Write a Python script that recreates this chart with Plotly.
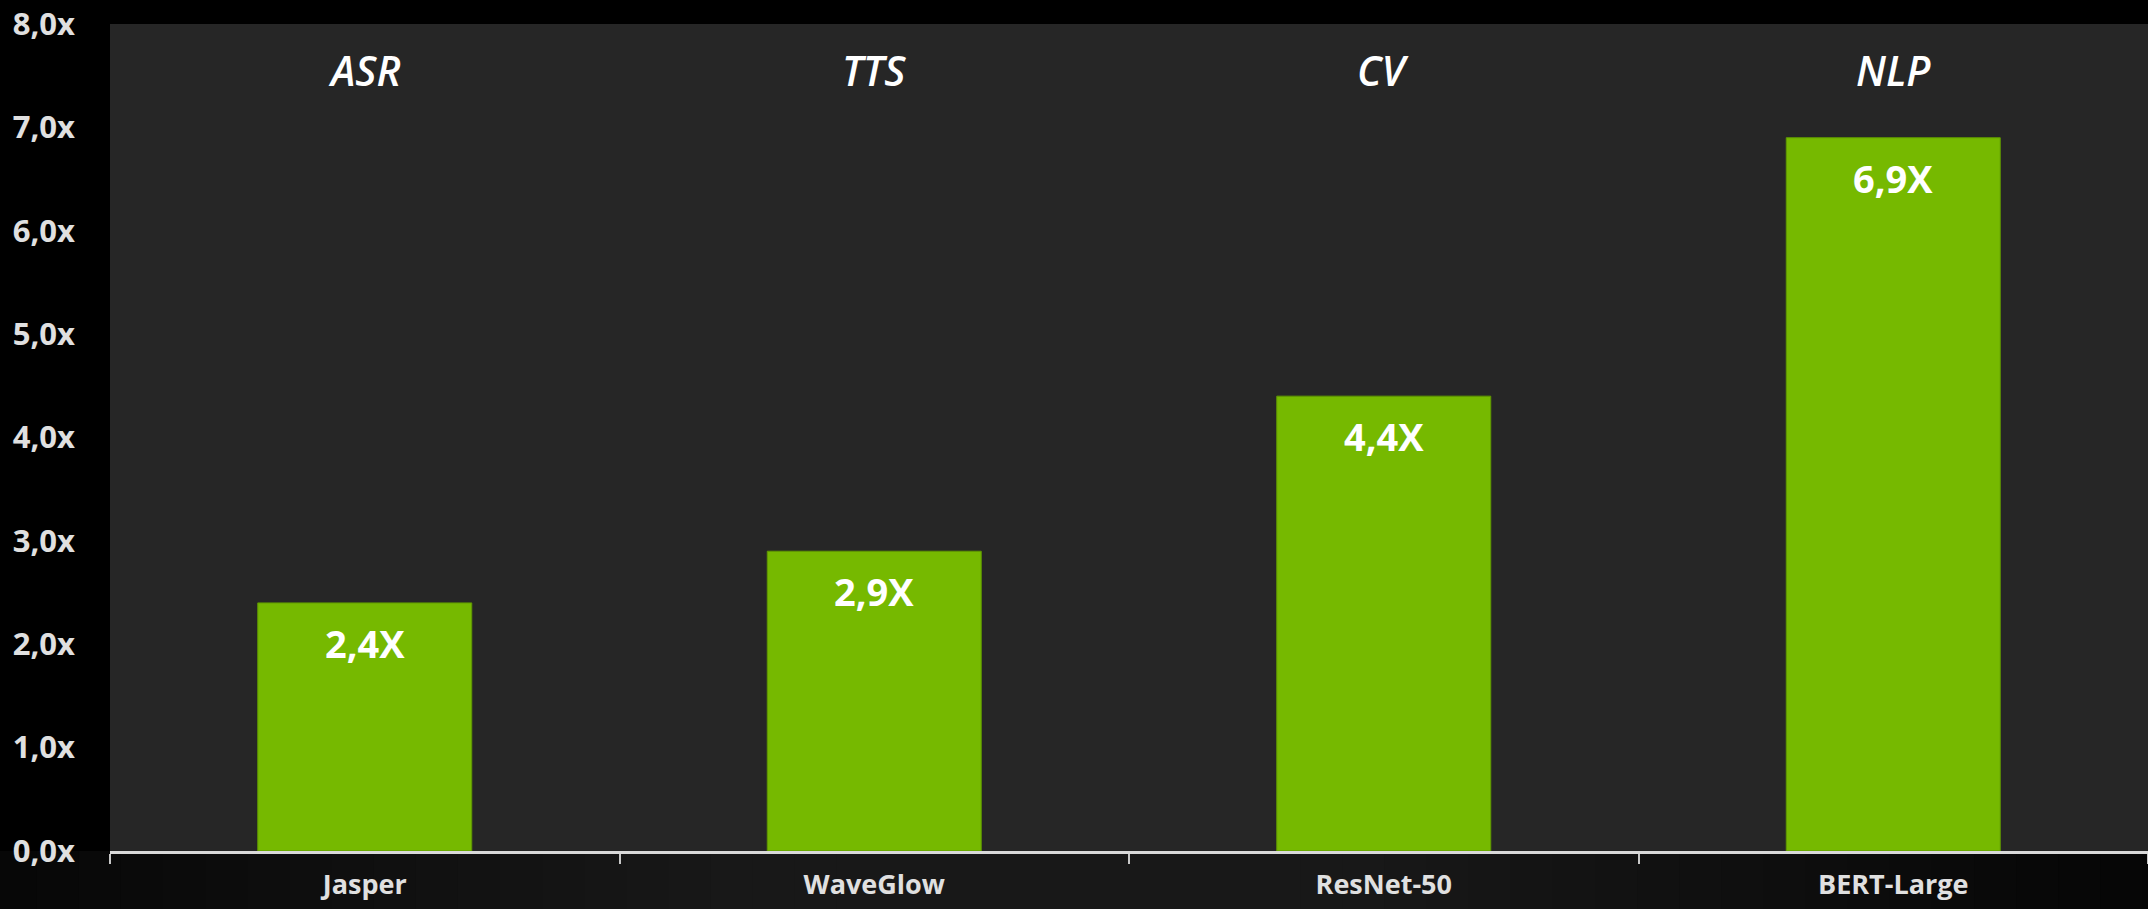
import plotly.graph_objects as go

# Data
models = ["Jasper", "WaveGlow", "ResNet-50", "BERT-Large"]
domains = ["ASR", "TTS", "CV", "NLP"]
speedup = [2.4, 2.9, 4.4, 6.9]
bar_labels = ["2,4X", "2,9X", "4,4X", "6,9X"]
y_tickvals = [0, 1, 2, 3, 4, 5, 6, 7, 8]
y_ticktext = ["0,0x", "1,0x", "2,0x", "3,0x", "4,0x", "5,0x", "6,0x", "7,0x", "8,0x"]

FONT = "Open Sans"
GREEN = "#76b900"

fig = go.Figure()

fig.add_trace(go.Bar(
    x=models,
    y=speedup,
    marker=dict(color=GREEN, line=dict(color="#5f9800", width=1)),
    hoverinfo="skip",
))

# value labels inside the top of each bar
for m, v, lbl in zip(models, speedup, bar_labels):
    fig.add_annotation(
        x=m, y=v, xref="x", yref="y", text=f"<b>{lbl}</b>",
        showarrow=False, yanchor="middle", yshift=-40,
        font=dict(family=FONT, size=38, color="white"),
    )

# workload titles along the top
for m, d in zip(models, domains):
    fig.add_annotation(
        x=m, y=7.555, xref="x", yref="y", text=d,
        showarrow=False, yanchor="middle",
        font=dict(family=FONT, size=41, color="white",
                  style="italic", weight=600),
    )

# soft glow behind the category labels
n_layers = 30
cx = 0.46
for i in range(n_layers):
    half = 0.62 * (1 - i / n_layers)
    fig.add_shape(
        type="rect", xref="paper", yref="paper",
        x0=cx - half, x1=cx + half, y0=-0.09, y1=0,
        fillcolor="rgba(52,52,52,0.045)", line=dict(width=0), layer="below",
    )

fig.update_layout(
    width=2148, height=909,
    margin=dict(l=110, r=0, t=24, b=58),
    paper_bgcolor="black",
    plot_bgcolor="#262626",
    bargap=0.58,
    showlegend=False,
    xaxis=dict(
        type="category",
        showline=True, linecolor="#d9d9d9", linewidth=3,
        ticks="outside", tickson="boundaries", ticklen=10, tickwidth=1.5,
        tickcolor="#c8c8c8",
        tickfont=dict(family=FONT, size=27, color="#e0e0e0", weight="bold"),
        ticklabelstandoff=8,
        showgrid=False, zeroline=False,
    ),
    yaxis=dict(
        range=[0, 8],
        tickvals=y_tickvals, ticktext=y_ticktext,
        tickfont=dict(family=FONT, size=31, color="#e0e0e0", weight="bold"),
        ticklabelstandoff=34,
        showgrid=False, zeroline=False, showline=False, ticks="",
    ),
)

fig.write_html("out.html")
